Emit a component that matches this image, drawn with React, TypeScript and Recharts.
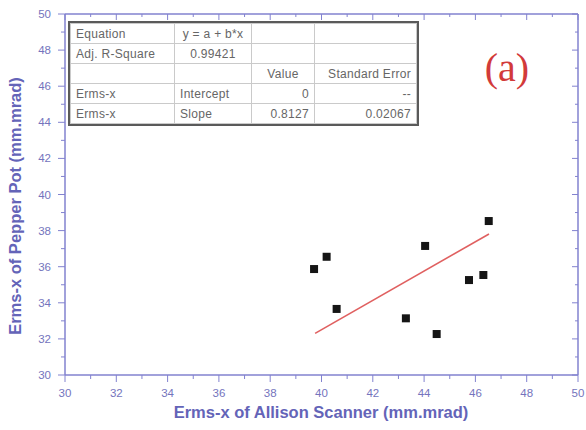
import React from 'react';
import { ScatterChart, Scatter, XAxis, YAxis } from 'recharts';

// Measured points (Allison scanner vs pepper pot, mm.mrad)
const allisonX = [39.71, 40.2, 40.59, 43.29, 44.04, 44.49, 45.75, 46.31, 46.52];
const pepperY = [35.87, 36.55, 33.66, 33.14, 37.15, 32.27, 35.26, 35.54, 38.53];
// Fit: y = b*x (intercept fixed at 0)
const fitSlope = 0.8127;
const fitXRange = [39.75, 46.53];

const axisTicks = [30, 31, 32, 33, 34, 35, 36, 37, 38, 39, 40, 41, 42, 43, 44, 45, 46, 47, 48, 49, 50];
const majorStep = 2;

const tableRows = [
  ['Equation', 'y = a + b*x', '', ''],
  ['Adj. R-Square', '0.99421', '', ''],
  ['', '', 'Value', 'Standard Error'],
  ['Erms-x', 'Intercept', '0', '--'],
  ['Erms-x', 'Slope', '0.8127', '0.02067'],
];

const xTitle = 'Erms-x of Allison Scanner (mm.mrad)';
const yTitle = 'Erms-x of Pepper Pot (mm.mrad)';
const panelTag = '(a)';

const points = allisonX.map((x, i) => ({ x, y: pepperY[i] }));
const fitLine = fitXRange.map((x) => ({ x, y: fitSlope * x }));

const AXIS = '#8282cf';
const TICKTXT = '#7474bd';
const TITLE = '#6464b8';

const makeTick = (side: string) => (props: any) => {
  const { x, y, payload } = props;
  const v = payload.value;
  const major = v % majorStep === 0;
  const outLen = major ? 7 : 4;
  const inLen = major ? 6 : 3;
  let line;
  let label = null;
  if (side === 'bottom') {
    line = <line x1={x} y1={y} x2={x} y2={y + outLen} stroke={AXIS} strokeWidth={1} />;
    if (major)
      label = (
        <text x={x} y={y + 18} textAnchor="middle" dominantBaseline="central" fontSize={11.5} fill={TICKTXT} fontFamily="Arial, Liberation Sans, sans-serif">
          {v}
        </text>
      );
  } else if (side === 'left') {
    line = <line x1={x} y1={y} x2={x - outLen} y2={y} stroke={AXIS} strokeWidth={1} />;
    if (major)
      label = (
        <text x={x - 14} y={y} textAnchor="end" dominantBaseline="central" fontSize={11.5} fill={TICKTXT} fontFamily="Arial, Liberation Sans, sans-serif">
          {v}
        </text>
      );
  } else if (side === 'top') {
    line = <line x1={x} y1={y} x2={x} y2={y + inLen} stroke={AXIS} strokeWidth={1} />;
  } else {
    line = <line x1={x} y1={y} x2={x - inLen} y2={y} stroke={AXIS} strokeWidth={1} />;
  }
  return (
    <g>
      {line}
      {label}
    </g>
  );
};

const SquareMark = (props: any) => {
  const { cx, cy } = props;
  return <rect x={cx - 4} y={cy - 4} width={8} height={8} fill="#151515" />;
};
const NoMark = () => <g />;

const cellBase: React.CSSProperties = {
  border: '1px solid #cacaca',
  height: 19,
  padding: '0 5px',
  whiteSpace: 'nowrap',
  overflow: 'hidden',
};
const colWidths = [104, 77, 63, 102];
const align = (r: number, c: number): 'left' | 'center' | 'right' => {
  if (c === 0) return 'left';
  if (c === 1) return r < 2 ? 'center' : 'left';
  if (r === 2) return c === 2 ? 'center' : 'right';
  return 'right';
};

export default function App() {
  return (
    <div style={{ position: 'absolute', left: 0, top: 0, width: 586, height: 430, background: '#fff' }}>
      <ScatterChart width={586} height={430} margin={{ top: 13, right: 7, bottom: 54, left: 64 }}>
        <XAxis
          xAxisId="b"
          type="number"
          dataKey="x"
          domain={[30, 50]}
          ticks={axisTicks}
          interval={0}
          height={1}
          tickSize={0}
          tickMargin={0}
          tick={makeTick('bottom')}
          axisLine={{ stroke: AXIS, strokeWidth: 1.5 }}
          allowDataOverflow
          label={{
            content: () => (
              <text x={321} y={412} textAnchor="middle" dominantBaseline="central" fontSize={16.5} fontWeight="bold" fill={TITLE} fontFamily="Arial, Liberation Sans, sans-serif">
                {xTitle}
              </text>
            ),
          }}
        />
        <XAxis
          xAxisId="t"
          orientation="top"
          type="number"
          dataKey="x"
          domain={[30, 50]}
          ticks={axisTicks}
          interval={0}
          height={1}
          tickSize={0}
          tickMargin={0}
          tick={makeTick('top')}
          axisLine={{ stroke: AXIS, strokeWidth: 1.5 }}
          allowDataOverflow
        />
        <YAxis
          yAxisId="l"
          type="number"
          dataKey="y"
          domain={[30, 50]}
          ticks={axisTicks}
          interval={0}
          width={1}
          tickSize={0}
          tickMargin={0}
          tick={makeTick('left')}
          axisLine={{ stroke: AXIS, strokeWidth: 1.5 }}
          allowDataOverflow
          label={{
            content: () => (
              <text x={15} y={206} transform="rotate(-90 15 206)" textAnchor="middle" dominantBaseline="central" fontSize={16.5} fontWeight="bold" fill={TITLE} fontFamily="Arial, Liberation Sans, sans-serif">
                {yTitle}
              </text>
            ),
          }}
        />
        <YAxis
          yAxisId="r"
          orientation="right"
          type="number"
          dataKey="y"
          domain={[30, 50]}
          ticks={axisTicks}
          interval={0}
          width={1}
          tickSize={0}
          tickMargin={0}
          tick={makeTick('right')}
          axisLine={{ stroke: AXIS, strokeWidth: 1.5 }}
          allowDataOverflow
        />
        <Scatter
          xAxisId="b"
          yAxisId="l"
          data={fitLine}
          line={{ stroke: '#e06060', strokeWidth: 1.6 }}
          shape={NoMark}
          isAnimationActive={false}
        />
        <Scatter xAxisId="b" yAxisId="l" data={points} shape={SquareMark} isAnimationActive={false} />
      </ScatterChart>

      <div
        style={{
          position: 'absolute',
          left: 68,
          top: 21,
          border: '2px solid #5a5a5a',
          background: '#fff',
        }}
      >
        <table
          style={{
            borderCollapse: 'collapse',
            tableLayout: 'fixed',
            width: 346,
            fontFamily: 'Arial, Liberation Sans, sans-serif',
            fontSize: 12,
            letterSpacing: 0.3,
            color: '#666666',
          }}
        >
          <colgroup>
            {colWidths.map((w, i) => (
              <col key={i} style={{ width: w }} />
            ))}
          </colgroup>
          <tbody>
            {tableRows.map((row, r) => (
              <tr key={r}>
                {row.map((cell, c) => (
                  <td key={c} style={{ ...cellBase, textAlign: align(r, c) }}>
                    {cell}
                  </td>
                ))}
              </tr>
            ))}
          </tbody>
        </table>
      </div>

      <div
        style={{
          position: 'absolute',
          left: 465,
          top: 45,
          width: 84,
          textAlign: 'center',
          fontFamily: '"Liberation Serif", "DejaVu Serif", serif',
          fontSize: 40,
          lineHeight: '46px',
          color: '#d23a3a',
        }}
      >
        {panelTag}
      </div>
    </div>
  );
}
